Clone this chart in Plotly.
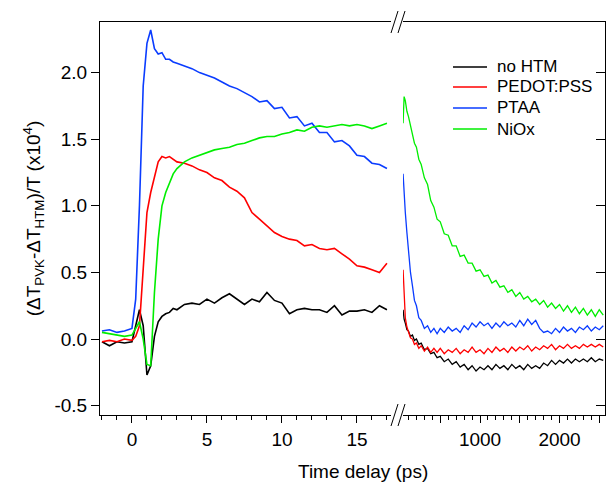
import plotly.graph_objects as go

# ---------------- data ----------------
series_names = ["no HTM", "PEDOT:PSS", "PTAA", "NiOx"]
series_colors = ["#000000", "#ff0000", "#0a3cff", "#00ee00"]

# left segment (linear, ps)
t_short = [-2.0, -1.5, -1.0, -0.5, 0.0, 0.25, 0.5, 0.75, 1.0, 1.25, 1.5, 1.75, 2.0, 2.25, 2.5,
           2.75, 3.0, 3.5, 4.0, 4.5, 5.0, 5.5, 6.0, 6.5, 7.0, 7.5, 8.0, 8.5, 9.0, 9.5, 10.0,
           10.5, 11.0, 11.5, 12.0, 12.5, 13.0, 13.5, 14.0, 14.5, 15.0, 15.5, 16.0, 16.5, 17.0]

nohtm_short = [-0.02, -0.05, -0.02, -0.03, -0.02, 0.10, 0.22, 0.10, -0.27, -0.20, 0.02, 0.13,
               0.17, 0.19, 0.20, 0.23, 0.22, 0.26, 0.27, 0.26, 0.30, 0.27, 0.31, 0.34, 0.30,
               0.26, 0.30, 0.28, 0.35, 0.29, 0.27, 0.19, 0.22, 0.23, 0.22, 0.22, 0.20, 0.25,
               0.18, 0.21, 0.21, 0.22, 0.20, 0.25, 0.22]
pedot_short = [-0.02, -0.01, -0.02, 0.00, -0.01, 0.02, 0.10, 0.55, 0.95, 1.10, 1.22, 1.33,
               1.37, 1.36, 1.37, 1.35, 1.33, 1.32, 1.30, 1.27, 1.25, 1.21, 1.19, 1.14, 1.11,
               1.06, 0.95, 0.90, 0.85, 0.80, 0.77, 0.75, 0.74, 0.70, 0.71, 0.68, 0.67, 0.68,
               0.64, 0.60, 0.55, 0.54, 0.52, 0.50, 0.57]
ptaa_short = [0.06, 0.07, 0.05, 0.06, 0.08, 0.30, 1.00, 1.90, 2.22, 2.32, 2.18, 2.14, 2.15,
              2.10, 2.10, 2.08, 2.07, 2.05, 2.03, 2.00, 1.98, 1.96, 1.93, 1.90, 1.88, 1.85,
              1.82, 1.78, 1.79, 1.73, 1.74, 1.66, 1.67, 1.60, 1.62, 1.55, 1.55, 1.48, 1.49,
              1.45, 1.38, 1.37, 1.32, 1.31, 1.28]
niox_short = [0.05, 0.04, 0.03, 0.02, 0.03, 0.08, 0.13, 0.00, -0.19, -0.20, 0.35, 0.75, 1.00,
              1.10, 1.17, 1.24, 1.28, 1.33, 1.36, 1.38, 1.40, 1.42, 1.43, 1.44, 1.46, 1.47,
              1.49, 1.51, 1.52, 1.52, 1.54, 1.55, 1.57, 1.56, 1.59, 1.60, 1.59, 1.60, 1.61,
              1.60, 1.61, 1.60, 1.58, 1.60, 1.62]

# right segment (linear, ps)
t_long = [32, 45, 60, 80, 100, 125, 150, 175, 200, 230, 260, 300, 340, 380, 420, 460, 500,
          550, 600, 650, 700, 750, 800, 850, 900, 950, 1000, 1050, 1100, 1150, 1200, 1250,
          1300, 1350, 1400, 1450, 1500, 1550, 1600, 1650, 1700, 1750, 1800, 1850, 1900, 1950,
          2000, 2050, 2100, 2150, 2200, 2250, 2300, 2350, 2400, 2450, 2500, 2550]

nohtm_long = [0.22, 0.15, 0.12, 0.07, 0.06, 0.02, 0.03, -0.01, 0.00, -0.04, -0.03, -0.08,
              -0.07, -0.11, -0.10, -0.14, -0.13, -0.17, -0.15, -0.19, -0.17, -0.21, -0.19,
              -0.23, -0.20, -0.24, -0.21, -0.23, -0.20, -0.23, -0.19, -0.22, -0.20, -0.23,
              -0.19, -0.22, -0.20, -0.23, -0.19, -0.22, -0.20, -0.22, -0.18, -0.20, -0.16,
              -0.19, -0.16, -0.18, -0.15, -0.18, -0.15, -0.17, -0.15, -0.17, -0.14, -0.17,
              -0.15, -0.16]
pedot_long = [0.52, 0.28, 0.16, 0.09, 0.05, 0.01, 0.00, -0.04, -0.03, -0.07, -0.05, -0.09,
              -0.06, -0.10, -0.07, -0.10, -0.07, -0.11, -0.08, -0.10, -0.07, -0.11, -0.08,
              -0.10, -0.06, -0.10, -0.08, -0.11, -0.07, -0.10, -0.06, -0.09, -0.07, -0.10,
              -0.06, -0.09, -0.06, -0.08, -0.05, -0.09, -0.06, -0.08, -0.05, -0.07, -0.04,
              -0.08, -0.05, -0.07, -0.04, -0.07, -0.05, -0.07, -0.04, -0.06, -0.04, -0.06,
              -0.04, -0.06]
ptaa_long = [1.24, 1.08, 0.95, 0.80, 0.66, 0.50, 0.40, 0.29, 0.25, 0.16, 0.14, 0.08, 0.10,
             0.05, 0.08, 0.04, 0.08, 0.05, 0.09, 0.06, 0.08, 0.05, 0.10, 0.07, 0.12, 0.09,
             0.13, 0.10, 0.12, 0.08, 0.12, 0.09, 0.13, 0.10, 0.12, 0.09, 0.14, 0.10, 0.15,
             0.11, 0.14, 0.08, 0.05, 0.06, 0.04, 0.08, 0.05, 0.09, 0.06, 0.08, 0.05, 0.09,
             0.07, 0.10, 0.06, 0.09, 0.07, 0.10]
niox_long = [1.62, 1.82, 1.79, 1.71, 1.67, 1.60, 1.55, 1.47, 1.44, 1.35, 1.31, 1.21, 1.16,
             1.04, 0.99, 0.90, 0.88, 0.79, 0.78, 0.70, 0.70, 0.62, 0.63, 0.57, 0.57, 0.51,
             0.52, 0.47, 0.48, 0.42, 0.44, 0.39, 0.40, 0.35, 0.37, 0.32, 0.35, 0.30, 0.32,
             0.28, 0.30, 0.26, 0.29, 0.24, 0.27, 0.23, 0.26, 0.21, 0.25, 0.20, 0.24, 0.19,
             0.23, 0.18, 0.22, 0.17, 0.22, 0.18]

y_ticks = [-0.5, 0.0, 0.5, 1.0, 1.5, 2.0]
y_ticklabels = ["-0.5", "0.0", "0.5", "1.0", "1.5", "2.0"]
short_ticks = [0, 5, 10, 15]
short_ticklabels = ["0", "5", "10", "15"]
long_ticks = [500, 1000, 1500, 2000, 2500]
long_ticklabels = ["", "1000", "", "2000", ""]

short_series = [nohtm_short, pedot_short, ptaa_short, niox_short]
long_series = [nohtm_long, pedot_long, ptaa_long, niox_long]

# ---------------- figure ----------------
FONT = "Liberation Sans, Arial, sans-serif"
fig = go.Figure()
for name, col, ys, yl in zip(series_names, series_colors, short_series, long_series):
    fig.add_trace(go.Scatter(x=t_short, y=ys, mode="lines", name=name, legendgroup=name,
                             showlegend=False, line=dict(color=col, width=1.6),
                             xaxis="x", yaxis="y"))
    fig.add_trace(go.Scatter(x=t_long, y=yl, mode="lines", name=name, legendgroup=name,
                             showlegend=False, line=dict(color=col, width=1.3),
                             xaxis="x2", yaxis="y2"))

L, R, T, B = 100, 11, 22, 70
W, H = 616, 485
pw, ph = W - L - R, H - T - B

def px(xp):
    return (xp - L) / pw

def py(yp):
    return (H - B - yp) / ph

d1_end = px(391)
d2_start = px(403)

axis_common = dict(showgrid=False, zeroline=False, showline=True, linecolor="black",
                   linewidth=1, tickcolor="black", tickfont=dict(family=FONT, size=19, color="black"))

fig.update_layout(
    width=W, height=H,
    margin=dict(l=L, r=R, t=T, b=B),
    paper_bgcolor="white", plot_bgcolor="white",
    font=dict(family=FONT, color="black"),
    xaxis=dict(domain=[0, d1_end], range=[-2.13, 17.27], anchor="y",
               tickmode="array", tickvals=short_ticks, ticktext=short_ticklabels,
               ticks="outside", ticklen=7, mirror=True,
               minor=dict(dtick=1, tick0=0, ticks="outside", ticklen=4, tickcolor="black"),
               **axis_common),
    xaxis2=dict(domain=[d2_start, 1], range=[31, 2572], anchor="y",
                tickmode="array", tickvals=long_ticks, ticktext=long_ticklabels,
                ticks="outside", ticklen=7, mirror=True,
                minor=dict(dtick=100, tick0=0, ticks="outside", ticklen=4, tickcolor="black"),
                **axis_common),
    yaxis=dict(range=[-0.57, 2.38], anchor="x", tickmode="array", tickvals=y_ticks,
               ticktext=y_ticklabels, ticks="outside", ticklen=8,
               title=dict(text="(ΔT<sub>PVK</sub>-ΔT<sub>HTM</sub>)/T (x10<sup>4</sup>)",
                          font=dict(family=FONT, size=19), standoff=8),
               **axis_common),
    yaxis2=dict(range=[-0.57, 2.38], anchor="x2", overlaying="y", side="right",
                tickmode="array", tickvals=y_ticks, showticklabels=False,
                ticks="inside", ticklen=9, **axis_common),
    showlegend=False,
)

fig.add_annotation(text="Time delay (ps)", xref="paper", yref="paper",
                   x=px(363), y=py(471), xanchor="center", yanchor="middle",
                   showarrow=False, font=dict(family=FONT, size=19, color="black"))

# legend drawn as line samples + text
legend_y = [67, 87, 108, 129]
for name, col, yy in zip(series_names, series_colors, legend_y):
    fig.add_shape(type="line", xref="paper", yref="paper",
                  x0=px(453), x1=px(487), y0=py(yy), y1=py(yy),
                  line=dict(color=col, width=1.6))
    fig.add_annotation(text=name, xref="paper", yref="paper", x=px(495), y=py(yy),
                       xanchor="left", yanchor="middle", showarrow=False,
                       font=dict(family=FONT, size=17, color="black"))

# axis-break marks
for yc in (415, 22):
    for x0 in (391, 398):
        fig.add_shape(type="line", xref="paper", yref="paper",
                      x0=px(x0), y0=py(yc + 11), x1=px(x0 + 7), y1=py(yc - 11),
                      line=dict(color="black", width=1))

fig.write_html("out.html")
